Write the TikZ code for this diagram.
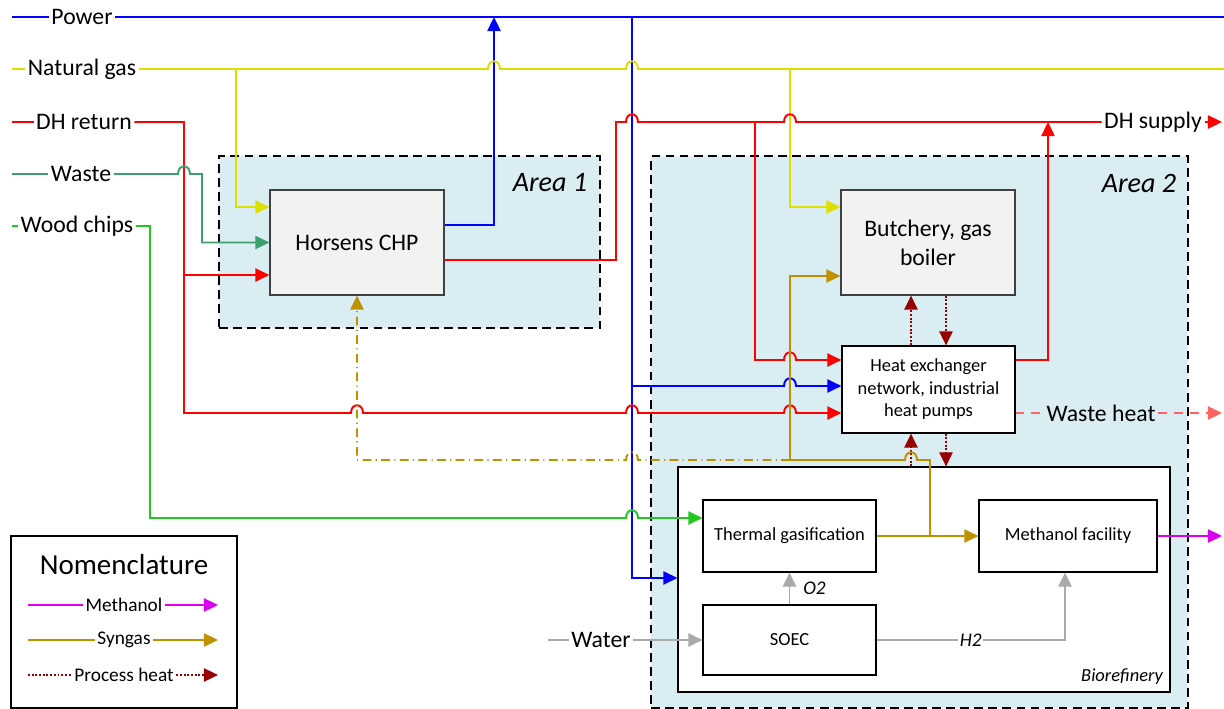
\documentclass[tikz,border=0pt]{standalone}
\usepackage{fontspec}
\setmainfont{Carlito}
\usepackage{xcolor}
\usepackage{tikz}
\usetikzlibrary{arrows.meta}

\definecolor{pwblue}{RGB}{0,0,255}
\definecolor{ngyellow}{RGB}{222,222,0}
\definecolor{dhred}{RGB}{255,0,0}
\definecolor{wsgreen}{RGB}{60,160,110}
\definecolor{wcgreen}{RGB}{34,200,34}
\definecolor{syngold}{RGB}{191,144,0}
\definecolor{heatred}{RGB}{150,0,0}
\definecolor{mepink}{RGB}{220,0,240}
\definecolor{gasgrey}{RGB}{170,170,170}
\definecolor{whred}{RGB}{255,100,100}
\definecolor{areablue}{RGB}{218,237,243}
\definecolor{boxgrey}{RGB}{242,242,242}

\begin{document}
\begin{tikzpicture}[x=0.02cm,y=-0.02cm,>={Triangle[length=8pt,width=7.5pt]},line width=1.1pt]
 \tikzstyle{plantbox}=[draw=black!75,fill=boxgrey,line width=0.7pt,align=center,font=\fontsize{13.5}{16.5}\selectfont]
 \tikzstyle{subbox}=[draw=black,fill=white,line width=0.7pt,align=center,font=\fontsize{10.5}{12.8}\selectfont]
 \tikzstyle{areabox}=[draw=black,fill=areablue,line width=1.1pt,dash pattern=on 5pt off 3pt]
 \tikzstyle{arealbl}=[font=\fontsize{16}{19}\itshape\selectfont]
 \tikzstyle{flowtxt}=[inner sep=1pt,font=\fontsize{13.5}{16}\selectfont]
 \tikzstyle{legtxt}=[inner sep=1pt,font=\fontsize{11}{13}\selectfont]
 \tikzstyle{hop}=[out=90,in=90,looseness=2.2]
 \tikzstyle{pwline}=[draw=pwblue]
 \tikzstyle{ngline}=[draw=ngyellow]
 \tikzstyle{dhline}=[draw=dhred]
 \tikzstyle{wsline}=[draw=wsgreen]
 \tikzstyle{wcline}=[draw=wcgreen]
 \tikzstyle{synline}=[draw=syngold]
 \tikzstyle{synrec}=[draw=syngold,dash pattern=on 5pt off 2.5pt on 0.6pt off 2.5pt]
 \tikzstyle{heatline}=[draw=heatred,densely dotted]
 \tikzstyle{meline}=[draw=mepink]
 \tikzstyle{gyline}=[draw=gasgrey]
 \tikzstyle{whline}=[draw=whred,dash pattern=on 5pt off 4pt]

 \useasboundingbox (0,0) rectangle (1224,709);

 \node[areabox,minimum width=7.62cm,minimum height=3.44cm] (area1) at (409.5,242) {};
 \node[areabox,minimum width=10.74cm,minimum height=11.04cm] (area2) at (919.5,432) {};
 \node[arealbl] (area1lbl) at (550,183) {Area 1};
 \node[arealbl] (area2lbl) at (1139,183) {Area 2};

 \node[plantbox,minimum width=3.48cm,minimum height=2.1cm] (chp) at (357,242.5) {Horsens CHP};
 \node[plantbox,minimum width=3.48cm,minimum height=2.1cm] (but) at (928,242.5) {Butchery, gas\\boiler};
 \node[subbox,minimum width=3.46cm,minimum height=1.74cm] (hx) at (928.5,389.5) {Heat exchanger\\network, industrial\\heat pumps};
 \node[subbox,minimum width=9.84cm,minimum height=4.5cm] (bio) at (924,579.5) {};
 \node[font=\fontsize{10.5}{12}\itshape\selectfont] (biolbl) at (1122,677) {Biorefinery};
 \node[subbox,minimum width=3.46cm,minimum height=1.44cm] (gas) at (789.5,536) {Thermal gasification};
 \node[subbox,minimum width=3.56cm,minimum height=1.44cm] (meoh) at (1068,536) {Methanol facility};
 \node[subbox,minimum width=3.46cm,minimum height=1.4cm] (soec) at (789.5,640) {SOEC};

 \node[flowtxt] (power) at (82,17) {Power};
 \node[flowtxt] (natgas) at (82,69) {Natural gas};
 \node[flowtxt] (dhret) at (84,122) {DH return};
 \node[flowtxt] (waste) at (81,174) {Waste};
 \node[flowtxt] (wood) at (77,226) {Wood chips};
 \node[flowtxt] (dhsup) at (1153,122) {DH supply};
 \node[flowtxt] (wheat) at (1101,413) {Waste heat};
 \node[flowtxt] (water) at (601,640) {Water};

 \coordinate (pwin) at (12,17);   \coordinate (pwout) at (1224,17);
 \coordinate (ngin) at (12,69);   \coordinate (ngout) at (1224,69);
 \coordinate (dhin) at (12,122);  \coordinate (dhout) at (1222,122);
 \coordinate (wsin) at (12,174);
 \coordinate (wcin) at (12,226);
 \coordinate (whout) at (1222,413);
 \coordinate (meout) at (1222,536);
 \coordinate (wtin) at (548,640);

 % power
 \draw[pwline] (pwin) -- (power);
 \draw[pwline] (power) -- (pwout);
 \draw[pwline,->] (chp.east |- 0,225) -- (494,225) -- (494,17);
 \draw[pwline,->] (632,17) -- (632,578) -- (bio.west |- 0,578);
 \draw[pwline,->] (632,386) -- (784,386) to[hop] (796,386) -- (hx.west |- 0,386);

 % natural gas
 \draw[ngline] (ngin) -- (natgas);
 \draw[ngline] (natgas) -- (488,69) to[hop] (500,69) -- (626,69) to[hop] (638,69) -- (ngout);
 \draw[ngline,->] (236,69) -- (236,207) -- (chp.west |- 0,207);
 \draw[ngline,->] (790,69) -- (790,207) -- (but.west |- 0,207);

 % district heating
 \draw[dhline] (dhin) -- (dhret);
 \draw[dhline,->] (dhret) -- (184,122) -- (184,413) -- (351,413) to[hop] (363,413) -- (626,413) to[hop] (638,413) -- (784,413) to[hop] (796,413) -- (hx.west |- 0,413);
 \draw[dhline,->] (184,275) -- (chp.west |- 0,275);
 \draw[dhline] (chp.east |- 0,260) -- (616,260) -- (616,122) -- (626,122) to[hop] (638,122) -- (784,122) to[hop] (796,122) -- (dhsup);
 \draw[dhline,->] (dhsup) -- (dhout);
 \draw[dhline,->] (755,122) -- (755,360) -- (784,360) to[hop] (796,360) -- (hx.west |- 0,360);
 \draw[dhline,->] (hx.east |- 0,360) -- (1048,360) -- (1048,122);

 % waste and wood chips
 \draw[wsline] (wsin) -- (waste);
 \draw[wsline,->] (waste) -- (178,174) to[hop] (190,174) -- (202,174) -- (202,242.5) -- (chp.west);
 \draw[wcline] (wcin) -- (wood);
 \draw[wcline,->] (wood) -- (150,226) -- (150,518) -- (626,518) to[hop] (638,518) -- (gas.west |- 0,518);

 % process heat
 \draw[heatline,->] (hx.north -| 911,0) -- (but.south -| 911,0);
 \draw[heatline,->] (but.south -| 946,0) -- (hx.north -| 946,0);
 \draw[heatline,->] (bio.north -| 911,0) -- (hx.south -| 911,0);
 \draw[heatline,->] (hx.south -| 946,0) -- (bio.north -| 946,0);

 % syngas
 \draw[synline,->] (gas) -- (meoh);
 \draw[synline] (930,536) -- (930,460) -- (917,460) to[hop] (905,460) -- (790,460);
 \draw[synline,->] (790,460) -- (790,276) -- (but.west |- 0,276);
 \draw[synrec,->] (790,460) -- (638,460) to[hop] (626,460) -- (357,460) -- (chp.south);

 % biorefinery
 \draw[meline,->] (meoh) -- (meout);
 \draw[gyline,->] (soec) -- (gas) node[midway,right=4pt,font=\fontsize{11}{13}\itshape\selectfont] (o2) {O2};
 \draw[gyline,->] (soec.east) -- (1065,640) node[pos=0.5,fill=white,inner sep=1pt,font=\fontsize{11}{13}\itshape\selectfont] (h2) {H2} -- (meoh.south -| 1065,0);
 \draw[gyline] (wtin) -- (water);
 \draw[gyline,->] (water) -- (soec);
 \draw[whline] (hx.east |- 0,413) -- (wheat);
 \draw[whline,->] (wheat) -- (whout);

 % nomenclature
 \node[draw=black,line width=0.7pt,minimum width=4.52cm,minimum height=3.44cm] (nom) at (124,622) {};
 \node[font=\fontsize{16.5}{19}\selectfont] (nomtitle) at (124,565) {Nomenclature};
 \node[legtxt] (lgme) at (124,605) {Methanol};
 \node[legtxt] (lgsyn) at (124,640) {Syngas};
 \node[legtxt] (lgheat) at (124,675) {Process heat};
 \coordinate (lgmeA) at (28,605);   \coordinate (lgmeB) at (218,605);
 \coordinate (lgsynA) at (28,640);  \coordinate (lgsynB) at (218,640);
 \coordinate (lgheatA) at (28,675); \coordinate (lgheatB) at (218,675);
 \draw[meline] (lgmeA) -- (lgme);
 \draw[meline,->] (lgme) -- (lgmeB);
 \draw[synline] (lgsynA) -- (lgsyn);
 \draw[synline,->] (lgsyn) -- (lgsynB);
 \draw[heatline] (lgheatA) -- (lgheat);
 \draw[heatline,->] (lgheat) -- (lgheatB);
\end{tikzpicture}
\end{document}
